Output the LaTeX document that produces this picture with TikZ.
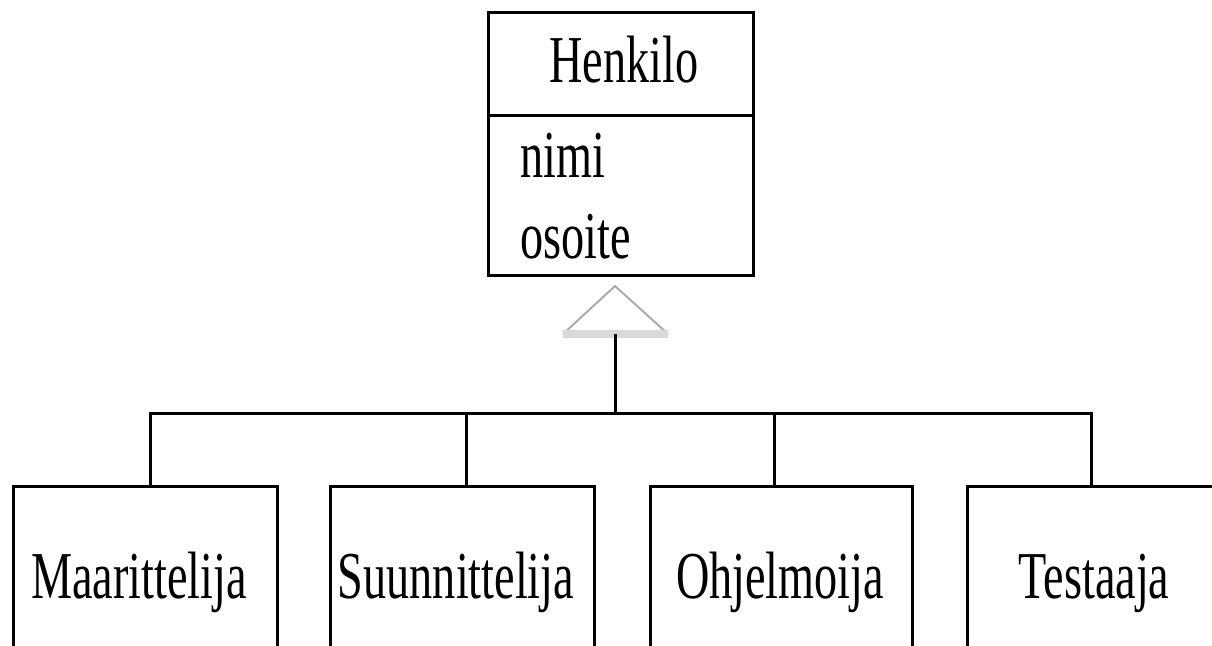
\documentclass[tikz,border=0pt]{standalone}
\usepackage{fontspec}
\usepackage{graphicx}
\setmainfont{Liberation Serif}
\newcommand\narrowtext[1]{\scalebox{0.69}[1]{#1}}
\begin{document}
\begin{tikzpicture}[x=1pt,y=-1pt,
  box/.style={draw, line width=3pt, inner sep=0pt, outer sep=0pt},
  label/.style={inner sep=0pt, anchor=base, font=\fontsize{67}{70}\selectfont},
  attr/.style={inner sep=0pt, anchor=base west, font=\fontsize{67}{70}\selectfont},
  link/.style={line width=3pt}]
\clip (0,0) rectangle (1212,645);
\fill[white] (0,0) rectangle (1212,645);

% superclass box with its attribute compartment
\node[box, minimum width=265pt, minimum height=263pt] (henkilo) at (620.5,143.5) {};
\coordinate (div) at (0,115);
\draw[link] (henkilo.west |- div) -- (henkilo.east |- div);
\node[label] (title) at (624,82) {\narrowtext{Henkilo}};
\node[attr] (nimi) at (520,177) {\narrowtext{nimi}};
\node[attr] (osoite) at (520,258) {\narrowtext{osoite}};

% generalisation triangle
\coordinate (apex) at (615,286);
\coordinate (bl) at (563,334);
\coordinate (br) at (668,334);
\coordinate (tribase) at (615,334);
\draw[gray!65, line width=2pt] (bl) -- (apex) -- (br);
\draw[gray!30, line width=8pt] (bl) -- (br);

% subclass boxes
\node[box, minimum width=264pt, minimum height=260pt, anchor=north] (maar) at (145,486) {};
\node[box, minimum width=264pt, minimum height=260pt, anchor=north] (suun) at (462,486) {};
\node[box, minimum width=262pt, minimum height=260pt, anchor=north] (ohje) at (781,486) {};
\node[box, minimum width=264pt, minimum height=260pt, anchor=north] (test) at (1099,486) {};
\node[label] (lmaar) at (139,598) {\narrowtext{Maarittelija}};
\node[label] (lsuun) at (456,598) {\narrowtext{Suunnittelija}};
\node[label] (lohje) at (780,598) {\narrowtext{Ohjelmoija}};
\node[label] (ltest) at (1094,598) {\narrowtext{Testaaja}};

% tree of connectors
\coordinate (bus) at (0,413);
\coordinate (dm) at (150,413);
\coordinate (ds) at (466,413);
\coordinate (do) at (774,413);
\coordinate (dt) at (1091,413);
\draw[link] (tribase) -- (tribase |- bus);
\draw[link, line cap=rect] (dm) -- (dt);
\draw[link] (dm) -- (dm |- maar.north);
\draw[link] (ds) -- (ds |- suun.north);
\draw[link] (do) -- (do |- ohje.north);
\draw[link] (dt) -- (dt |- test.north);
\end{tikzpicture}
\end{document}
